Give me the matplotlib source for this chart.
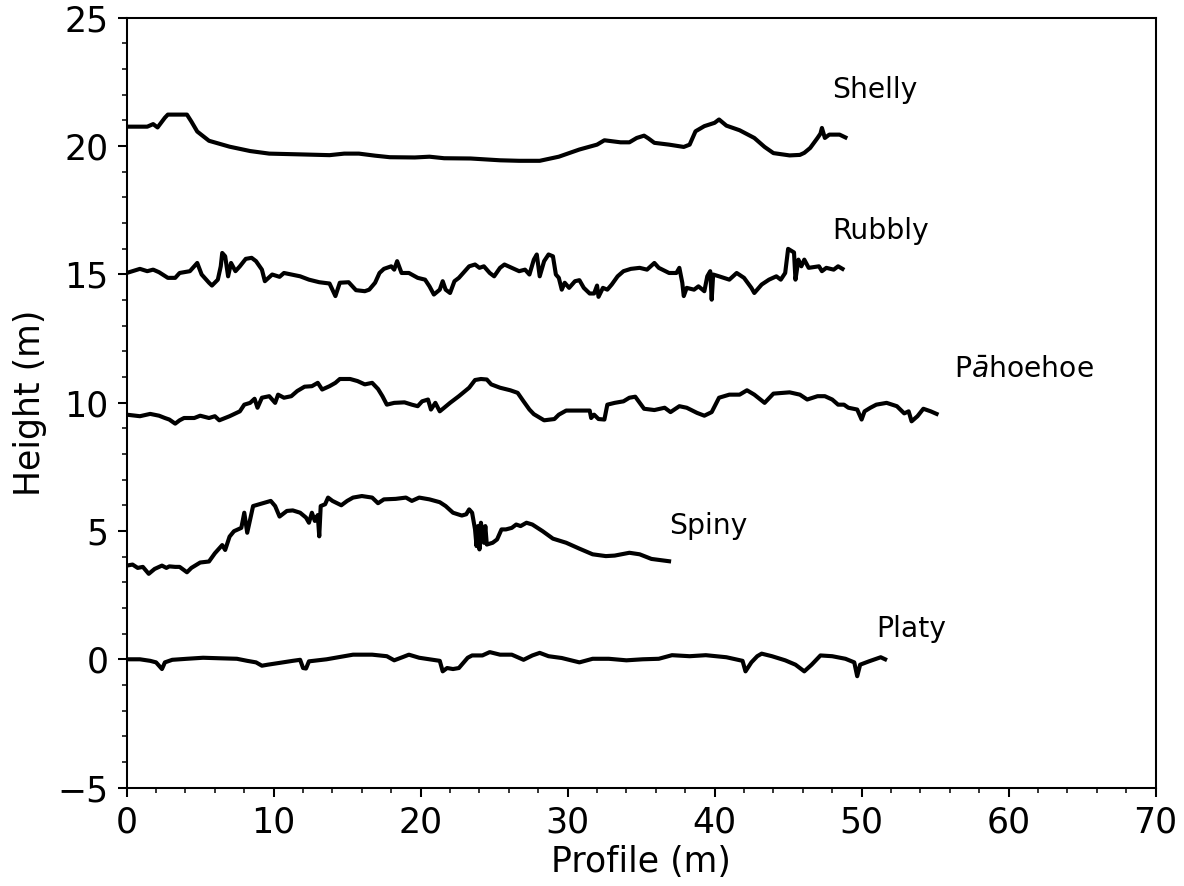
import matplotlib.pyplot as plt
from matplotlib.ticker import MultipleLocator

shelly_x = [0.0, 1.4, 1.8, 2.1, 2.6, 2.8, 4.1, 4.4, 4.8, 5.6, 7.0, 8.4, 9.7, 11.8, 13.8,
            14.8, 15.8, 16.9, 17.9, 19.6, 20.6, 21.6, 23.4, 25.4, 26.7, 28.1, 29.4, 30.8,
            32.0, 32.5, 33.6, 34.2, 34.7, 35.2, 35.5, 35.9, 36.9, 37.9, 38.3, 38.7, 39.3,
            40.0, 40.3, 40.8, 41.7, 42.7, 43.4, 44.0, 45.1, 45.8, 46.1, 46.5, 47.0, 47.2,
            47.3, 47.5, 47.8, 48.5, 48.9]
shelly_y = [20.75, 20.75, 20.85, 20.72, 21.10, 21.22, 21.22, 20.95, 20.56, 20.20, 19.97,
            19.80, 19.70, 19.67, 19.64, 19.70, 19.70, 19.62, 19.56, 19.55, 19.58, 19.52,
            19.51, 19.44, 19.42, 19.42, 19.58, 19.86, 20.05, 20.22, 20.14, 20.14, 20.31,
            20.40, 20.29, 20.12, 20.05, 19.96, 20.05, 20.57, 20.77, 20.90, 21.03, 20.79,
            20.61, 20.31, 19.96, 19.72, 19.63, 19.65, 19.73, 19.92, 20.31, 20.48, 20.70,
            20.31, 20.44, 20.44, 20.33]

rubbly_x = [0.0, 0.9, 1.4, 1.8, 2.2, 2.8, 3.3, 3.6, 4.3, 4.8, 5.1, 5.6, 5.8, 6.2, 6.4, 6.5,
            6.7, 6.9, 7.1, 7.4, 7.7, 8.1, 8.5, 8.8, 9.2, 9.4, 9.9, 10.4, 10.7, 11.2, 11.8,
            12.4, 13.1, 13.8, 14.2, 14.5, 15.1, 15.6, 16.2, 16.5, 16.9, 17.2, 17.5, 18.0,
            18.2, 18.4, 18.7, 19.2, 19.8, 20.3, 20.6, 20.9, 21.3, 21.5, 21.7, 22.0, 22.3,
            22.6, 23.0, 23.3, 23.7, 24.0, 24.3, 24.7, 25.0, 25.4, 25.7, 26.2, 26.7, 27.1,
            27.4, 27.7, 27.9, 28.1, 28.4, 28.7, 29.0, 29.2, 29.4, 29.6, 29.8, 30.1, 30.5,
            30.8, 31.1, 31.5, 31.8, 32.0, 32.1, 32.4, 32.7, 33.0, 33.4, 33.8, 34.3, 34.9,
            35.4, 35.9, 36.2, 36.9, 37.4, 37.6, 37.8, 37.9, 38.1, 38.6, 38.9, 39.3, 39.5,
            39.7, 39.8, 39.9, 40.3, 41.0, 41.5, 42.0, 42.5, 42.7, 43.2, 43.7, 44.2, 44.5,
            44.8, 45.0, 45.4, 45.5, 45.7, 45.9, 46.1, 46.4, 47.1, 47.3, 47.6, 48.1, 48.4,
            48.7]
rubbly_y = [15.05, 15.21, 15.12, 15.18, 15.08, 14.86, 14.86, 15.05, 15.12, 15.44, 14.99,
            14.67, 14.56, 14.79, 15.31, 15.83, 15.70, 14.92, 15.44, 15.12, 15.31, 15.60,
            15.64, 15.51, 15.18, 14.73, 14.99, 14.90, 15.05, 14.99, 14.92, 14.79, 14.69,
            14.64, 14.15, 14.67, 14.69, 14.38, 14.34, 14.40, 14.67, 15.05, 15.21, 15.31,
            15.18, 15.51, 15.05, 15.05, 14.86, 14.79, 14.53, 14.21, 14.40, 14.73, 14.40,
            14.27, 14.73, 14.86, 15.12, 15.31, 15.38, 15.25, 15.31, 15.05, 14.92, 15.25,
            15.38, 15.25, 15.12, 15.18, 14.99, 15.57, 15.77, 14.92, 15.51, 15.77, 15.70,
            14.99, 14.86, 14.40, 14.67, 14.47, 14.73, 14.77, 14.47, 14.25, 14.25, 14.56,
            14.12, 14.47, 14.40, 14.60, 14.92, 15.12, 15.21, 15.25, 15.18, 15.44, 15.25,
            15.05, 15.05, 15.25, 14.67, 14.15, 14.47, 14.40, 14.53, 14.34, 14.92, 15.12,
            14.01, 14.99, 14.92, 14.79, 15.05, 14.86, 14.47, 14.27, 14.60, 14.79, 14.92,
            14.79, 15.05, 15.99, 15.85, 14.79, 15.57, 15.31, 15.57, 15.25, 15.31, 15.12,
            15.25, 15.18, 15.31, 15.21]

pahoehoe_x = [0.0, 0.9, 1.6, 2.2, 2.6, 2.9, 3.3, 3.6, 3.9, 4.6, 5.0, 5.6, 6.0, 6.3, 7.0,
              7.7, 8.0, 8.4, 8.7, 8.9, 9.2, 9.7, 10.1, 10.3, 10.7, 11.2, 11.6, 12.1, 12.6,
              13.0, 13.3, 13.8, 14.2, 14.5, 15.2, 15.7, 16.2, 16.7, 17.1, 17.4, 17.7, 18.2,
              18.9, 19.4, 19.8, 20.1, 20.5, 20.7, 21.0, 21.3, 21.6, 22.0, 22.6, 23.3, 23.7,
              24.1, 24.5, 24.8, 25.4, 26.1, 26.6, 27.0, 27.4, 27.7, 28.4, 29.1, 29.4, 29.9,
              30.8, 31.5, 31.6, 31.8, 32.1, 32.5, 32.7, 33.2, 33.8, 34.2, 34.6, 35.2, 35.9,
              36.6, 37.0, 37.6, 38.1, 38.8, 39.3, 39.8, 40.3, 41.0, 41.7, 42.2, 42.7, 43.4,
              44.0, 45.1, 45.8, 46.3, 47.0, 47.5, 48.0, 48.4, 48.8, 49.1, 49.7, 50.0, 50.2,
              50.6, 51.0, 51.7, 52.4, 52.9, 53.2, 53.4, 53.8, 54.2, 54.7, 55.1]
pahoehoe_y = [9.53, 9.47, 9.56, 9.49, 9.40, 9.34, 9.18, 9.31, 9.40, 9.40, 9.49, 9.40, 9.47,
              9.31, 9.47, 9.66, 9.92, 9.99, 10.15, 9.80, 10.19, 10.25, 9.99, 10.31, 10.19,
              10.25, 10.45, 10.62, 10.64, 10.77, 10.51, 10.64, 10.77, 10.92, 10.92, 10.84,
              10.71, 10.77, 10.53, 10.25, 9.92, 9.99, 10.01, 9.92, 9.86, 10.05, 10.12, 9.73,
              9.99, 9.66, 9.80, 9.99, 10.25, 10.58, 10.88, 10.92, 10.90, 10.71, 10.58, 10.48,
              10.38, 10.05, 9.73, 9.55, 9.31, 9.36, 9.53, 9.69, 9.69, 9.69, 9.40, 9.53, 9.36,
              9.34, 9.92, 9.99, 10.05, 10.19, 10.23, 9.76, 9.71, 9.80, 9.63, 9.86, 9.80, 9.60,
              9.49, 9.63, 10.19, 10.31, 10.31, 10.48, 10.31, 9.99, 10.35, 10.40, 10.31, 10.12,
              10.25, 10.25, 10.12, 9.92, 9.92, 9.80, 9.73, 9.34, 9.66, 9.80, 9.92, 9.99, 9.86,
              9.58, 9.66, 9.27, 9.47, 9.76, 9.66, 9.56]

spiny_x = [0.0, 0.4, 0.75, 1.1, 1.5, 1.9, 2.4, 2.7, 2.9, 3.3, 3.6, 4.1, 4.4, 5.0, 5.6, 6.0,
           6.5, 6.7, 7.0, 7.3, 7.8, 8.0, 8.2, 8.6, 9.5, 9.8, 10.1, 10.4, 10.9, 11.3, 11.8,
           12.2, 12.4, 12.6, 12.8, 13.0, 13.1, 13.2, 13.5, 13.7, 14.0, 14.6, 15.0, 15.4,
           16.0, 16.7, 17.1, 17.5, 18.3, 19.0, 19.4, 19.9, 20.6, 21.3, 21.7, 22.2, 22.8,
           23.1, 23.3, 23.5, 23.7, 23.8, 23.9, 24.0, 24.1, 24.3, 24.4, 24.5, 24.9, 25.2,
           25.5, 25.8, 26.2, 26.5, 26.8, 27.2, 27.6, 28.3, 29.0, 29.9, 30.8, 31.7, 32.6,
           33.2, 34.2, 34.9, 35.7, 36.9]
spiny_y = [3.65, 3.69, 3.56, 3.60, 3.33, 3.52, 3.65, 3.56, 3.62, 3.60, 3.60, 3.39, 3.56,
           3.77, 3.81, 4.13, 4.45, 4.26, 4.78, 4.99, 5.12, 5.71, 4.93, 5.97, 6.12, 6.17,
           5.97, 5.56, 5.78, 5.80, 5.71, 5.52, 5.32, 5.71, 5.39, 5.62, 4.79, 5.97, 6.04,
           6.30, 6.17, 6.00, 6.17, 6.30, 6.36, 6.30, 6.08, 6.23, 6.25, 6.30, 6.17, 6.30,
           6.23, 6.12, 5.97, 5.71, 5.60, 5.65, 5.84, 5.71, 5.06, 4.41, 5.19, 4.28, 5.32,
           4.54, 5.19, 4.47, 4.54, 4.67, 5.06, 5.06, 5.12, 5.25, 5.19, 5.32, 5.25, 4.99,
           4.70, 4.54, 4.31, 4.09, 4.02, 4.04, 4.15, 4.09, 3.91, 3.82]

platy_x = [0.0, 0.9, 1.6, 2.0, 2.4, 2.6, 3.1, 4.1, 5.2, 6.3, 7.5, 8.2, 8.8, 9.2, 9.6, 10.4,
           11.3, 11.8, 12.0, 12.2, 12.4, 13.6, 15.4, 16.7, 17.7, 18.2, 18.8, 19.2, 19.9,
           20.6, 21.3, 21.5, 21.8, 22.2, 22.6, 23.2, 23.5, 24.2, 24.7, 25.4, 26.2, 27.0,
           27.6, 28.1, 28.7, 29.6, 30.8, 31.7, 32.8, 34.0, 35.1, 36.2, 37.1, 38.3, 39.4,
           40.8, 41.9, 42.1, 42.5, 42.9, 43.2, 43.9, 44.8, 45.5, 46.1, 46.6, 47.2, 48.0,
           48.9, 49.5, 49.7, 49.9, 50.5, 51.0, 51.3, 51.6]
platy_y = [0.0, 0.0, -0.06, -0.12, -0.38, -0.12, -0.02, 0.02, 0.06, 0.04, 0.02, -0.06, -0.12,
           -0.25, -0.21, -0.14, -0.06, -0.02, -0.34, -0.36, -0.08, 0.0, 0.18, 0.18, 0.12,
           -0.04, 0.09, 0.18, 0.06, 0.0, -0.06, -0.47, -0.34, -0.38, -0.34, 0.06, 0.15,
           0.15, 0.28, 0.18, 0.18, -0.02, 0.15, 0.25, 0.12, 0.05, -0.12, 0.02, 0.02, -0.04,
           0.0, 0.02, 0.16, 0.12, 0.16, 0.08, -0.06, -0.47, -0.12, 0.12, 0.22, 0.12, -0.04,
           -0.21, -0.47, -0.21, 0.15, 0.12, 0.02, -0.12, -0.66, -0.21, -0.08, 0.02, 0.08,
           0.0]

profiles = [
    (shelly_x, shelly_y, 'Shelly', 48.0, 22.2),
    (rubbly_x, rubbly_y, 'Rubbly', 48.0, 16.7),
    (pahoehoe_x, pahoehoe_y, 'P$\\bar{a}$hoehoe', 56.3, 11.3),
    (spiny_x, spiny_y, 'Spiny', 36.9, 5.2),
    (platy_x, platy_y, 'Platy', 51.0, 1.2),
]

fig, ax = plt.subplots(figsize=(6.4, 4.79), dpi=185)
fig.subplots_adjust(left=0.107, right=0.976, top=0.980, bottom=0.111)

for xs, ys, name, tx, ty in profiles:
    ax.plot(xs, ys, color='black', lw=1.6)
    ax.text(tx, ty, name, fontsize=11, va='center', ha='left')

ax.set_xlim(0, 70)
ax.set_ylim(-5, 25)
ax.xaxis.set_major_locator(MultipleLocator(10))
ax.xaxis.set_minor_locator(MultipleLocator(2))
ax.yaxis.set_major_locator(MultipleLocator(5))
ax.yaxis.set_minor_locator(MultipleLocator(1))
ax.tick_params(labelsize=13.5)
ax.set_xlabel('Profile (m)', fontsize=13.5, labelpad=2)
ax.set_ylabel('Height (m)', fontsize=13.5, labelpad=4)

fig.savefig('out.png', dpi=185)
